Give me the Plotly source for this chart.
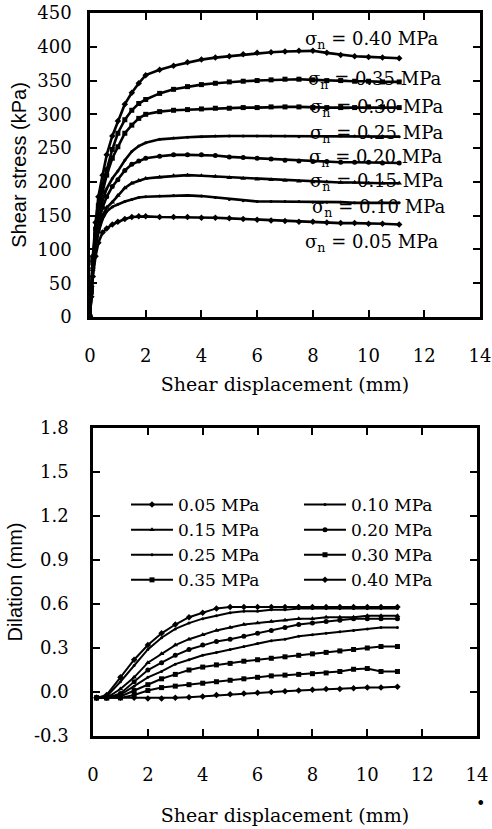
import plotly.graph_objects as go

W, H = 492, 829

# ---------------- data: shear stress (kPa) vs shear displacement (mm) ----------------
stress_x = [0, 0.05, 0.1, 0.2, 0.3, 0.45, 0.6, 0.8, 1.0, 1.25, 1.5, 1.75, 2.0, 2.5, 3.0, 3.5,
            4.0, 4.5, 5.0, 5.5, 6.0, 6.5, 7.0, 7.5, 8.0, 8.5, 9.0, 9.5, 10.0, 10.5, 11.1]
stress_040 = [0, 45, 90, 140, 178, 210, 240, 268, 290, 315, 332, 346, 358, 366, 372, 377,
              381, 384, 386, 389, 391, 392, 393, 394, 394, 391, 388, 386, 385, 384, 383]
stress_035 = [0, 42, 85, 130, 165, 195, 218, 248, 272, 292, 306, 316, 322, 331, 337, 341,
              344, 346, 348, 349, 350, 351, 352, 352, 351, 350, 350, 349, 349, 348, 348]
stress_030 = [0, 40, 80, 122, 155, 185, 210, 235, 252, 272, 284, 294, 300, 304, 306, 307,
              308, 309, 309, 310, 310, 311, 311, 311, 310, 310, 310, 310, 311, 311, 310]
stress_025 = [0, 38, 75, 115, 145, 172, 190, 205, 216, 232, 245, 253, 258, 263, 265, 266,
              267, 268, 268, 268, 268, 268, 268, 267, 267, 267, 268, 268, 268, 268, 267]
stress_020 = [0, 36, 72, 110, 138, 162, 178, 193, 203, 217, 226, 231, 235, 238, 240, 240,
              240, 239, 237, 236, 235, 234, 232, 231, 230, 230, 229, 229, 229, 228, 228]
stress_015 = [0, 35, 70, 105, 130, 150, 162, 170, 180, 191, 198, 202, 205, 207, 209, 210,
              209, 208, 206, 205, 204, 203, 202, 201, 200, 200, 199, 199, 198, 198, 198]
stress_010 = [0, 33, 65, 100, 125, 145, 156, 163, 167, 171, 174, 177, 178, 179, 180, 180,
              179, 177, 174, 172, 171, 171, 171, 171, 170, 170, 170, 169, 169, 169, 169]
stress_005 = [0, 30, 60, 90, 110, 125, 131, 137, 141, 145, 148, 149, 149, 148, 148, 148,
              147, 147, 146, 145, 144, 143, 142, 141, 141, 140, 139, 139, 138, 138, 137]

# ---------------- data: dilation (mm) vs shear displacement (mm) ----------------
dil_x = [0.13, 0.5, 1.0, 1.5, 2.0, 2.5, 3.0, 3.5, 4.0, 4.5, 5.0, 5.5, 6.0, 6.5, 7.0, 7.5,
         8.0, 8.5, 9.0, 9.5, 10.0, 10.5, 11.1]
dil_005 = [-0.04, -0.02, 0.10, 0.22, 0.32, 0.40, 0.46, 0.51, 0.54, 0.57, 0.58, 0.58, 0.58,
           0.58, 0.58, 0.58, 0.58, 0.58, 0.58, 0.58, 0.58, 0.58, 0.58]
dil_010 = [-0.04, -0.03, 0.07, 0.18, 0.29, 0.37, 0.43, 0.47, 0.50, 0.52, 0.54, 0.55, 0.55,
           0.56, 0.56, 0.57, 0.57, 0.57, 0.57, 0.57, 0.57, 0.57, 0.57]
dil_015 = [-0.04, -0.04, 0.02, 0.10, 0.20, 0.26, 0.32, 0.36, 0.39, 0.42, 0.44, 0.46, 0.47,
           0.48, 0.49, 0.50, 0.50, 0.51, 0.51, 0.51, 0.52, 0.52, 0.52]
dil_020 = [-0.04, -0.04, -0.01, 0.07, 0.15, 0.20, 0.25, 0.29, 0.32, 0.345, 0.36, 0.38, 0.40,
           0.42, 0.44, 0.46, 0.47, 0.48, 0.49, 0.50, 0.50, 0.50, 0.50]
dil_025 = [-0.04, -0.04, -0.02, 0.04, 0.10, 0.14, 0.19, 0.22, 0.25, 0.27, 0.29, 0.31, 0.33,
           0.35, 0.36, 0.38, 0.39, 0.40, 0.41, 0.42, 0.43, 0.44, 0.44]
dil_030 = [-0.04, -0.04, -0.03, 0.01, 0.05, 0.09, 0.12, 0.15, 0.17, 0.185, 0.195, 0.21, 0.22,
           0.23, 0.24, 0.25, 0.26, 0.27, 0.28, 0.29, 0.30, 0.31, 0.31]
dil_035 = [-0.04, -0.04, -0.04, -0.02, 0.01, 0.03, 0.04, 0.05, 0.06, 0.07, 0.08, 0.09, 0.10,
           0.11, 0.115, 0.12, 0.125, 0.13, 0.14, 0.155, 0.16, 0.14, 0.14]
dil_040 = [-0.04, -0.04, -0.04, -0.04, -0.045, -0.045, -0.04, -0.035, -0.03, -0.02, -0.015,
           -0.01, -0.005, 0.0, 0.005, 0.01, 0.015, 0.02, 0.02, 0.025, 0.03, 0.03, 0.035]

series_names = ["0.05 MPa", "0.10 MPa", "0.15 MPa", "0.20 MPa",
                "0.25 MPa", "0.30 MPa", "0.35 MPa", "0.40 MPa"]
stress_series = [stress_005, stress_010, stress_015, stress_020,
                 stress_025, stress_030, stress_035, stress_040]
dil_series = [dil_005, dil_010, dil_015, dil_020, dil_025, dil_030, dil_035, dil_040]
stress_labels = ["0.05", "0.10", "0.15", "0.20", "0.25", "0.30", "0.35", "0.40"]

x_ticks = [0, 2, 4, 6, 8, 10, 12, 14]
stress_ticks = [0, 50, 100, 150, 200, 250, 300, 350, 400, 450]
dil_ticks = [-0.3, 0.0, 0.3, 0.6, 0.9, 1.2, 1.5, 1.8]
dil_tick_text = ["-0.3", "0.0", "0.3", "0.6", "0.9", "1.2", "1.5", "1.8"]

symbols = ["diamond", "circle", "triangle-up", "circle", "circle", "square", "square", "diamond"]
sizes = [5, 3, 5, 5, 3, 5, 5, 5]

SERIF = "DejaVu Serif"
SANS = "Liberation Sans"

fig = go.Figure()

for name, ys, sym, sz in zip(series_names, stress_series, symbols, sizes):
    fig.add_trace(go.Scatter(
        x=stress_x, y=ys, mode="lines+markers", xaxis="x", yaxis="y",
        line=dict(color="black", width=2.6),
        marker=dict(color="black", size=sz, symbol=sym),
        showlegend=False, name=name))

for name, ys, sym, sz in zip(series_names, dil_series, symbols, sizes):
    fig.add_trace(go.Scatter(
        x=dil_x, y=ys, mode="lines+markers", xaxis="x2", yaxis="y2",
        line=dict(color="black", width=2.0),
        marker=dict(color="black", size=sz, symbol=sym),
        showlegend=True, name=name))


def px_x(p):
    return p / W


def px_y(p):
    return 1 - p / H


axis_common = dict(
    showline=True, linecolor="black", linewidth=2.5, mirror="ticks",
    ticks="inside", ticklen=7, tickwidth=2, tickcolor="black",
    showgrid=False, zeroline=False, automargin=False,
    tickfont=dict(family=SERIF, size=18, color="black"),
)

fig.update_layout(
    template="none",
    width=W, height=H,
    margin=dict(l=0, r=0, t=0, b=0, autoexpand=False),
    paper_bgcolor="white", plot_bgcolor="white",
    xaxis=dict(domain=[px_x(90), px_x(480)], range=[0, 14], tickvals=x_ticks,
               anchor="y", ticklabelstandoff=21,
               title=dict(text="Shear displacement (mm)", standoff=13,
                          font=dict(family=SERIF, size=19, color="black")),
               **axis_common),
    yaxis=dict(domain=[px_y(317), px_y(13)], range=[0, 450], tickvals=stress_ticks,
               anchor="x", ticklabelstandoff=12,
               title=dict(text="Shear stress (kPa)", standoff=6,
                          font=dict(family=SANS, size=20, color="black")),
               **axis_common),
    xaxis2=dict(domain=[px_x(93), px_x(477)], range=[0, 14], tickvals=x_ticks,
                anchor="y2", ticklabelstandoff=21,
                title=dict(text="Shear displacement (mm)", standoff=25,
                           font=dict(family=SERIF, size=19, color="black")),
                **axis_common),
    yaxis2=dict(domain=[px_y(736), px_y(428)], range=[-0.3, 1.8], tickvals=dil_ticks,
                ticktext=dil_tick_text, anchor="x2", ticklabelstandoff=18,
                title=dict(text="Dilation (mm)", standoff=6,
                           font=dict(family=SANS, size=20, color="black")),
                **axis_common),
    legend=dict(orientation="h", x=px_x(126), y=px_y(487), xanchor="left", yanchor="top",
                entrywidth=116, entrywidthmode="pixels", bgcolor="rgba(0,0,0,0)",
                font=dict(family=SERIF, size=17, color="black"), tracegroupgap=0,
                itemwidth=42),
)

# sigma_n labels in the upper plot
label_pos = {  # left x px, centre y px
    "0.40": (303, 40), "0.35": (306, 80), "0.30": (308, 108), "0.25": (308, 134),
    "0.20": (307, 158), "0.15": (308, 182), "0.10": (310, 208), "0.05": (303, 243),
}
for lab in stress_labels:
    lx, ly = label_pos[lab]
    fig.add_annotation(
        x=px_x(lx), y=px_y(ly), xref="paper", yref="paper", xanchor="left", yanchor="middle",
        text="σ<sub>n</sub> = " + lab + " MPa", showarrow=False,
        font=dict(family=SERIF, size=18, color="black"))

# stray dot at lower right of the scan
fig.add_annotation(x=px_x(487), y=px_y(815), xref="paper", yref="paper", text="•",
                   showarrow=False, font=dict(family=SERIF, size=16, color="black"))

fig.write_html("out.html")
